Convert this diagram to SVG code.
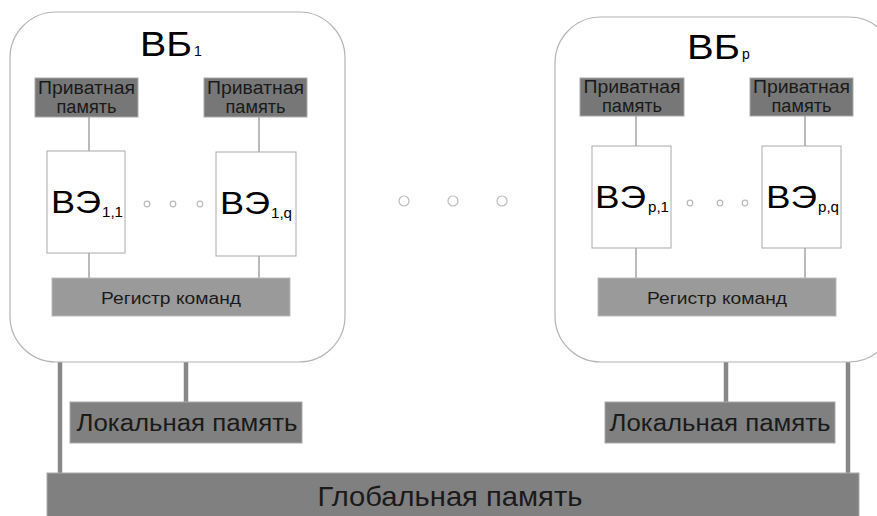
<svg xmlns="http://www.w3.org/2000/svg" width="877" height="516" viewBox="0 0 877 516">
<style>
text{font-family:"Liberation Sans",Arial,sans-serif;}
.vb{fill:#fff;stroke:#b4b4b4;stroke-width:1.2;}
.pm{fill:#777;stroke:#aaa;stroke-width:1;}
.reg{fill:#9a9a9a;stroke:#bbb;stroke-width:1;}
.ve{fill:#fff;stroke:#aaa;stroke-width:1;}
.mem{fill:#808080;stroke:#aaa;stroke-width:1;}
.thin{stroke:#777;stroke-width:1;fill:none;}
.thick{stroke:#888;stroke-width:4.5;fill:none;}
.dot{fill:none;stroke:#bbb;stroke-width:1.2;}
.t{fill:#1a1a1a;}
.pmt{fill:#1a1a1a;font-size:18px;}
.title{fill:#000;font-size:35px;}
.ve-t{fill:#000;font-size:32px;}
.sub{fill:#000;font-size:14px;}
</style>
<g id="connectors">
<line class="thick" x1="60" y1="360" x2="60" y2="474"/>
<line class="thick" x1="186" y1="360" x2="186" y2="402"/>
<line class="thick" x1="726" y1="360" x2="726" y2="402"/>
<line class="thick" x1="848" y1="360" x2="848" y2="474"/>
</g>
<g id="vb1">
<rect class="vb" x="10" y="12" width="335" height="350" rx="46" ry="46"/>
<text class="title" x="140" y="56" textLength="52" lengthAdjust="spacingAndGlyphs">ВБ</text>
<text class="sub" x="194" y="56">1</text>
</g>
<g id="vbp">
<rect class="vb" x="555" y="17" width="340" height="345" rx="46" ry="46"/>
<text class="title" x="687" y="59" textLength="53" lengthAdjust="spacingAndGlyphs">ВБ</text>
<text class="sub" x="742" y="59">p</text>
</g>
<g id="inner-connectors">
<line class="thin" x1="89" y1="117" x2="89" y2="151"/>
<line class="thin" x1="89" y1="253" x2="89" y2="279"/>
<line class="thin" x1="259" y1="117" x2="259" y2="152"/>
<line class="thin" x1="259" y1="256" x2="259" y2="279"/>
<line class="thin" x1="636" y1="116" x2="636" y2="146"/>
<line class="thin" x1="636" y1="248" x2="636" y2="279"/>
<line class="thin" x1="805" y1="116" x2="805" y2="146"/>
<line class="thin" x1="805" y1="248" x2="805" y2="279"/>
</g>
<g id="pm11">
<rect class="pm" x="35" y="78" width="103" height="39"/>
<text class="pmt" x="86.5" y="94" text-anchor="middle" textLength="97" lengthAdjust="spacingAndGlyphs">Приватная</text>
<text class="pmt" x="86.5" y="113" text-anchor="middle" textLength="60" lengthAdjust="spacingAndGlyphs">память</text>
</g>
<g id="pm1q">
<rect class="pm" x="204" y="78" width="103" height="39"/>
<text class="pmt" x="255.5" y="94" text-anchor="middle" textLength="97" lengthAdjust="spacingAndGlyphs">Приватная</text>
<text class="pmt" x="255.5" y="113" text-anchor="middle" textLength="60" lengthAdjust="spacingAndGlyphs">память</text>
</g>
<g id="pmp1">
<rect class="pm" x="580" y="78" width="104" height="38"/>
<text class="pmt" x="632" y="93" text-anchor="middle" textLength="97" lengthAdjust="spacingAndGlyphs">Приватная</text>
<text class="pmt" x="632" y="112" text-anchor="middle" textLength="60" lengthAdjust="spacingAndGlyphs">память</text>
</g>
<g id="pmpq">
<rect class="pm" x="750" y="78" width="103" height="38"/>
<text class="pmt" x="801.5" y="93" text-anchor="middle" textLength="97" lengthAdjust="spacingAndGlyphs">Приватная</text>
<text class="pmt" x="801.5" y="112" text-anchor="middle" textLength="60" lengthAdjust="spacingAndGlyphs">память</text>
</g>
<g id="ve11">
<rect class="ve" x="47" y="151" width="78" height="102"/>
<text class="ve-t" x="51" y="213" textLength="50" lengthAdjust="spacingAndGlyphs">ВЭ</text>
<text class="sub" x="102" y="217" textLength="21" lengthAdjust="spacingAndGlyphs">1,1</text>
</g>
<g id="ve1q">
<rect class="ve" x="216" y="152" width="80" height="104"/>
<text class="ve-t" x="220" y="214" textLength="50" lengthAdjust="spacingAndGlyphs">ВЭ</text>
<text class="sub" x="271" y="218" textLength="21" lengthAdjust="spacingAndGlyphs">1,q</text>
</g>
<g id="vep1">
<rect class="ve" x="592" y="146" width="79" height="102"/>
<text class="ve-t" x="595" y="208" textLength="51" lengthAdjust="spacingAndGlyphs">ВЭ</text>
<text class="sub" x="648" y="212" textLength="21" lengthAdjust="spacingAndGlyphs">p,1</text>
</g>
<g id="vepq">
<rect class="ve" x="762" y="146" width="79" height="102"/>
<text class="ve-t" x="766" y="208" textLength="51" lengthAdjust="spacingAndGlyphs">ВЭ</text>
<text class="sub" x="818" y="212" textLength="21" lengthAdjust="spacingAndGlyphs">p,q</text>
</g>
<g id="dots">
<circle class="dot" cx="147" cy="204" r="2.8"/>
<circle class="dot" cx="173" cy="204" r="2.8"/>
<circle class="dot" cx="200" cy="204" r="2.8"/>
<circle class="dot" cx="690" cy="203" r="2.8"/>
<circle class="dot" cx="720" cy="203" r="2.8"/>
<circle class="dot" cx="745" cy="203" r="2.8"/>
<circle class="dot" cx="404" cy="201" r="5"/>
<circle class="dot" cx="453" cy="201" r="5"/>
<circle class="dot" cx="502" cy="201" r="5"/>
</g>
<g id="reg1">
<rect class="reg" x="52" y="278" width="238" height="38"/>
<text class="t" x="171" y="304" font-size="16" text-anchor="middle" textLength="140" lengthAdjust="spacingAndGlyphs">Регистр команд</text>
</g>
<g id="regp">
<rect class="reg" x="598" y="278" width="238" height="38"/>
<text class="t" x="717" y="304" font-size="16" text-anchor="middle" textLength="140" lengthAdjust="spacingAndGlyphs">Регистр команд</text>
</g>
<g id="local1">
<rect class="mem" x="70" y="402" width="232" height="41"/>
<text class="t" x="187" y="431" font-size="23" text-anchor="middle" textLength="221" lengthAdjust="spacingAndGlyphs">Локальная память</text>
</g>
<g id="localp">
<rect class="mem" x="605" y="402" width="230" height="41"/>
<text class="t" x="720" y="431" font-size="23" text-anchor="middle" textLength="221" lengthAdjust="spacingAndGlyphs">Локальная память</text>
</g>
<g id="global">
<rect class="mem" x="47" y="473" width="812" height="50"/>
<text class="t" x="450" y="506" font-size="28" text-anchor="middle" textLength="265" lengthAdjust="spacingAndGlyphs">Глобальная память</text>
</g>
</svg>
